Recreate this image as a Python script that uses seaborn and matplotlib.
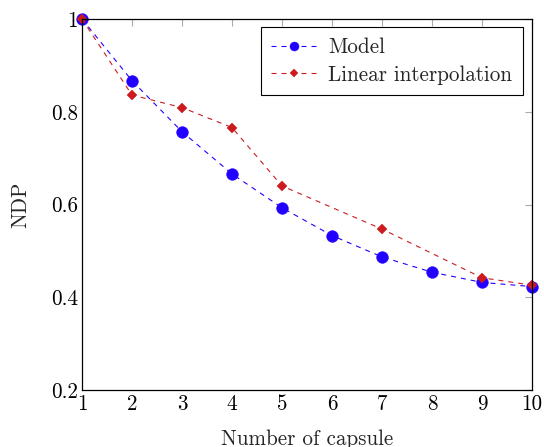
import matplotlib
matplotlib.use("Agg")
import matplotlib.pyplot as plt
import seaborn as sns
import pandas as pd
import numpy as np

capsules = [1, 2, 3, 4, 5, 6, 7, 8, 9, 10]
model = [1.0, 0.867, 0.757, 0.666, 0.593, 0.533, 0.487, 0.454, 0.432, 0.423]
linear_x = [1, 2, 3, 4, 5, 7, 9, 10]
linear = [1.0, 0.836, 0.809, 0.766, 0.640, 0.547, 0.442, 0.426]
y_ticks = [0.2, 0.4, 0.6, 0.8, 1.0]
y_tick_labels = ["0.2", "0.4", "0.6", "0.8", "1"]

sns.set_theme(style="white")
plt.rcParams['font.family'] = ['cmr10', 'DejaVu Serif']
plt.rcParams['axes.formatter.use_mathtext'] = True

df_model = pd.DataFrame({"x": capsules, "y": model})
df_lin = pd.DataFrame({"x": linear_x, "y": linear})

fig = plt.figure(figsize=(5.44, 4.47), dpi=100)
ax = fig.add_axes([82/544, 1-390/447, 450/544, 371/447])

blue = "#2200ff"
red = "#cc1a1f"
FS = 15.2
sns.lineplot(data=df_model, x="x", y="y", ax=ax, color=blue, lw=0.8,
             linestyle=(0, (4.5, 4.5)), marker="o", markersize=8.5, markeredgewidth=0.3,
             markeredgecolor=blue, markerfacecolor=blue, label="Model")
sns.lineplot(data=df_lin, x="x", y="y", ax=ax, color=red, lw=0.8,
             linestyle=(0, (4.5, 4.5)), marker="D", markersize=5.5, markeredgewidth=0.3,
             markeredgecolor=red, markerfacecolor=red, label="Linear interpolation")

ax.set_xlim(1, 10)
ax.set_ylim(0.2, 1.0)
ax.set_xticks(capsules)
ax.set_xticklabels([str(c) for c in capsules])
ax.set_yticks(y_ticks)
ax.set_yticklabels(y_tick_labels)
ax.tick_params(axis="both", direction="in", length=5, width=0.8, color="#aaaaaa",
               top=True, right=True, labelsize=FS, pad=3, labelcolor="black")
for s in ax.spines.values():
    s.set_color("black")
    s.set_linewidth(0.9)
ax.set_xlabel("Number of capsule", fontsize=FS, labelpad=11)
ax.set_ylabel("NDP", fontsize=FS, labelpad=15)
for lbl in ax.get_xticklabels() + ax.get_yticklabels():
    lbl.set_clip_on(False)
for line in ax.get_lines():
    line.set_clip_on(False)

leg = ax.legend(loc="upper right", fontsize=FS, frameon=True, fancybox=False,
                edgecolor="black", framealpha=1, borderpad=0.5, handlelength=2.1,
                handletextpad=0.6, borderaxespad=0.0, labelspacing=0.38)
leg.set_bbox_to_anchor(((523-82)/450, 1 - 8/371), transform=ax.transAxes)
leg.get_frame().set_linewidth(0.8)
for h, ms in zip(leg.legend_handles, [6.5, 4.5]):
    h.set_markersize(ms)

fig.savefig("out.png", dpi=100)
